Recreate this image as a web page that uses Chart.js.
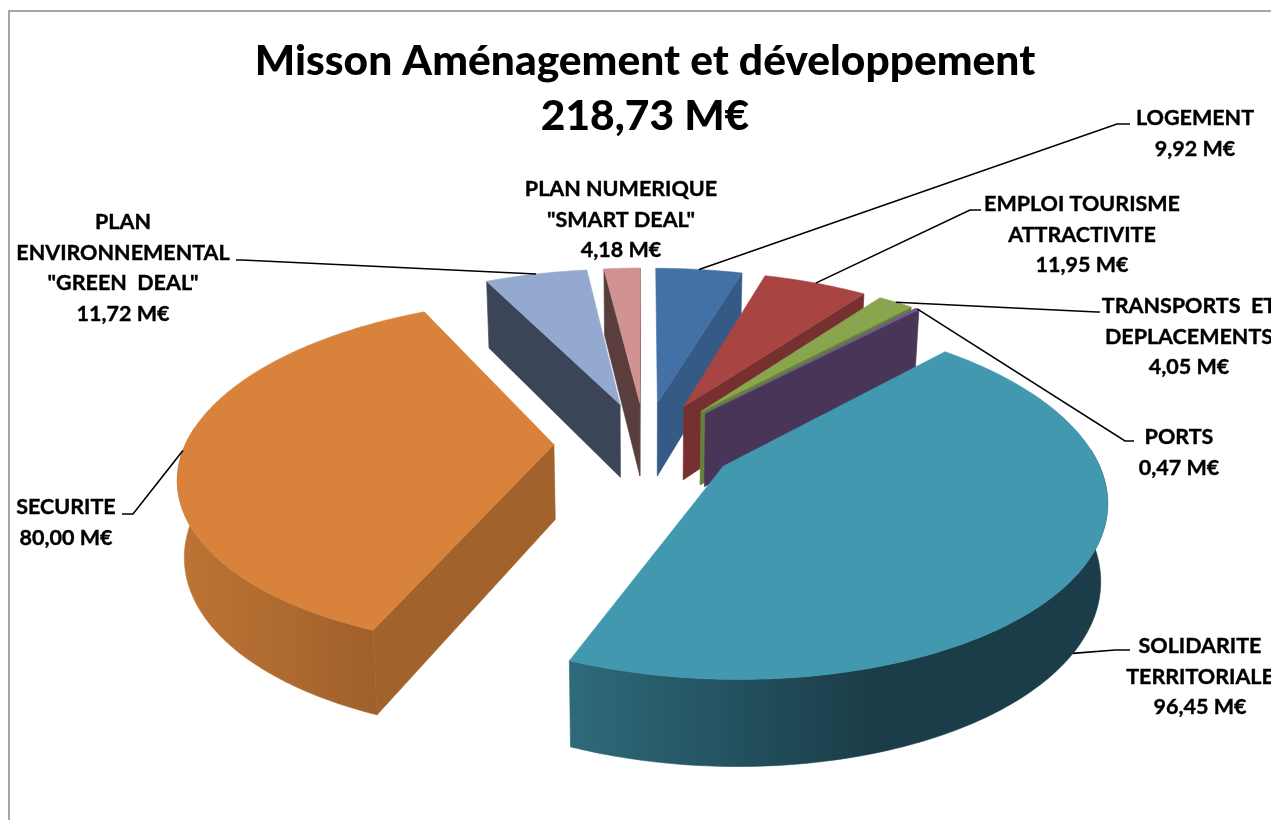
<!DOCTYPE html>
<html lang="fr">
<head>
<meta charset="utf-8">
<title>Mission Aménagement et développement</title>
<script src="https://cdn.jsdelivr.net/npm/chart.js@4/dist/chart.umd.min.js"></script>
<style>
    html, body { margin: 0; padding: 0; background: #fff; overflow: hidden; }
    canvas { display: block; }
</style>
</head>
<body>
<canvas id="myChart" width="1271" height="820" style="width:1271px;height:820px"></canvas>
<script>
    // Données
    const categories = ['LOGEMENT', 'EMPLOI TOURISME ATTRACTIVITE', 'TRANSPORTS ET DEPLACEMENTS', 'PORTS', 'SOLIDARITE TERRITORIALE', 'SECURITE', 'PLAN ENVIRONNEMENTAL "GREEN DEAL"', 'PLAN NUMERIQUE "SMART DEAL"'];
    const valeurs = [9.92, 11.95, 4.05, 0.47, 96.45, 80.00, 11.72, 4.18];
    const lignesTitre = ['Misson Aménagement et développement', '218,73 M€'];
    const lignesLabels = [
        ['LOGEMENT'],
        ['EMPLOI TOURISME', 'ATTRACTIVITE'],
        ['TRANSPORTS  ET', 'DEPLACEMENTS'],
        ['PORTS'],
        ['SOLIDARITE', 'TERRITORIALE'],
        ['SECURITE'],
        ['PLAN', 'ENVIRONNEMENTAL', '"GREEN  DEAL"'],
        ['PLAN NUMERIQUE', '"SMART DEAL"']
    ];

    // Couleurs
    const couleursDessus = ['#4471a5', '#a84442', '#89a54e', '#71588f', '#4198af', '#d9823c', '#93a9cf', '#d19392'];
    const couleursFlanc = ['#345a85', '#763030', '#66803a', '#483558', '#2d6878', '#a2622c', '#3b4557', '#5a3d3d'];

    // Position des textes : centre x, y de la première ligne
    const posLabels = [[1195, 118], [1082, 204], [1189, 306], [1179, 437], [1200, 646], [66, 507], [123, 222], [621, 189]];
    // Filets : coude puis arrivée (null = pas de filet)
    const filets = [
        [[1117, 124], [1130, 124]],
        [[970, 210], [981, 210]],
        [[1097, 312], [1100, 312]],
        [[1125, 441], [1134, 441]],
        [[1115, 650], [1130, 650]],
        [[133, 514], [122, 514]],
        [[242, 260], [236, 260]],
        null
    ];

    // Perspective
    const APLAT = 0.46;
    const RECUL = 2220;
    const EPAISSEUR = 75;
    const FUITE = 0.985;

    function projeter(el, px, py, bas) {
        let w = RECUL / (RECUL - py);
        let sx = px * w;
        let sy = APLAT * py * w;
        if (bas) {
            sx = sx * FUITE;
            sy = sy + EPAISSEUR * (1 + (w - 1) * 0.7);
        }
        return [el.x + sx, el.y + sy];
    }

    // Points du bord d'une part, sur le plan, éclatement compris
    function bordPart(el) {
        let milieu = (el.startAngle + el.endAngle) / 2;
        let decalage = (el.options.offset || 0) / 4;
        let ox = Math.cos(milieu) * decalage;
        let oy = Math.sin(milieu) * decalage;
        let pas = Math.max(2, Math.ceil((el.endAngle - el.startAngle) / 0.015));
        let points = [];
        let devant = [];
        for (let i = 0; i <= pas; i++) {
            let a = el.startAngle + (el.endAngle - el.startAngle) * i / pas;
            let p = [ox + Math.cos(a) * el.outerRadius, oy + Math.sin(a) * el.outerRadius];
            points.push(p);
            if (Math.sin(a) > -0.1) devant.push(p);
        }
        return { ox: ox, oy: oy, points: points, devant: devant };
    }

    function polygone(ctx, pts, fill) {
        ctx.beginPath();
        pts.forEach(function (p, i) {
            if (i == 0) ctx.moveTo(p[0], p[1]);
            else ctx.lineTo(p[0], p[1]);
        });
        ctx.closePath();
        ctx.fillStyle = fill;
        ctx.fill();
        ctx.strokeStyle = fill;
        ctx.lineWidth = 0.6;
        ctx.stroke();
    }

    function flanc(ctx, el, a, b, fill) {
        polygone(ctx, [projeter(el, a[0], a[1], false), projeter(el, b[0], b[1], false), projeter(el, b[0], b[1], true), projeter(el, a[0], a[1], true)], fill);
    }

    function degradeBord(ctx, index, fallback) {
        if (index == 4) {
            let g = ctx.createLinearGradient(572, 0, 1107, 0);
            g.addColorStop(0, '#2e6a7a');
            g.addColorStop(0.55, '#1b3d49');
            g.addColorStop(1, '#1b3d49');
            return g;
        }
        if (index == 5) {
            let g = ctx.createLinearGradient(177, 0, 380, 0);
            g.addColorStop(0, '#bd7434');
            g.addColorStop(1, '#a0602b');
            return g;
        }
        return fallback;
    }

    const pie3d = {
        id: 'pie3d',
        beforeDatasetDraw: function (chart, args) {
            const ctx = chart.ctx;
            const arcs = args.meta.data;
            // de l'arrière vers l'avant
            let ordre = arcs.map(function (el, i) { return i; });
            ordre.sort(function (i, j) {
                return Math.sin((arcs[i].startAngle + arcs[i].endAngle) / 2) - Math.sin((arcs[j].startAngle + arcs[j].endAngle) / 2);
            });
            ctx.save();
            ordre.forEach(function (i) {
                let el = arcs[i];
                let part = bordPart(el);
                let sommet = [part.ox, part.oy];
                // seuls les flancs tournés vers nous
                if (Math.sin(el.startAngle - Math.PI / 2) > 0) {
                    flanc(ctx, el, sommet, part.points[0], couleursFlanc[i]);
                }
                if (Math.sin(el.endAngle + Math.PI / 2) > 0) {
                    flanc(ctx, el, sommet, part.points[part.points.length - 1], couleursFlanc[i]);
                }

                if (part.devant.length > 1) {
                    let dessus = part.devant.map(function (p) { return projeter(el, p[0], p[1], false); });
                    let dessous = part.devant.map(function (p) { return projeter(el, p[0], p[1], true); }).reverse();
                    polygone(ctx, dessus.concat(dessous), degradeBord(ctx, i, couleursFlanc[i]));
                }

                let haut = part.points.map(function (p) { return projeter(el, p[0], p[1], false); });
                polygone(ctx, [projeter(el, part.ox, part.oy, false)].concat(haut), el.options.backgroundColor);
            });
            ctx.restore();
            return false;
        },
        afterDatasetsDraw: function (chart) {
            const ctx = chart.ctx;
            const arcs = chart.getDatasetMeta(0).data;
            ctx.save();
            // filets
            ctx.strokeStyle = '#000';
            ctx.lineWidth = 1.6;
            arcs.forEach(function (el, i) {
                if (!filets[i]) return;
                let milieu = (el.startAngle + el.endAngle) / 2;
                let d = (el.options.offset || 0) / 4 + el.outerRadius;
                // la solidarité s'accroche au bas du flanc
                let depart = projeter(el, Math.cos(milieu) * d, Math.sin(milieu) * d, i == 4);
                ctx.beginPath();
                ctx.moveTo(depart[0], depart[1]);
                filets[i].forEach(function (p) { ctx.lineTo(p[0], p[1]); });
                ctx.stroke();
            });
            // textes
            ctx.fillStyle = '#000';
            ctx.strokeStyle = '#000';
            ctx.lineWidth = 0.4;
            ctx.font = 'bold 21.5px Lato';
            ctx.textAlign = 'center';
            ctx.textBaseline = 'middle';
            lignesLabels.forEach(function (lignes, i) {
                let texte = lignes.concat([valeurs[i].toFixed(2).replace('.', ',') + ' M€']);
                texte.forEach(function (t, n) {
                    ctx.fillText(t, posLabels[i][0], posLabels[i][1] + n * 30.6);
                    ctx.strokeText(t, posLabels[i][0], posLabels[i][1] + n * 30.6);
                });
            });
            ctx.restore();
        },
        beforeDraw: function (chart) {
            // cadre du graphique, coupé à droite et en bas
            const ctx = chart.ctx;
            ctx.save();
            ctx.fillStyle = '#fff';
            ctx.fillRect(0, 0, chart.width, chart.height);
            ctx.strokeStyle = '#a6a6a6';
            ctx.lineWidth = 2;
            ctx.beginPath();
            ctx.moveTo(9, chart.height);
            ctx.lineTo(9, 11);
            ctx.lineTo(chart.width, 11);
            ctx.stroke();
            ctx.restore();
        }
    };

    let myChart = new Chart(document.getElementById('myChart'), {
        type: 'pie',
        data: {
            labels: categories,
            datasets: [{
                data: valeurs,
                backgroundColor: couleursDessus,
                borderWidth: 0,
                offset: 364,
                radius: 368
            }]
        },
        options: {
            responsive: false,
            animation: false,
            layout: { padding: { left: 19, right: 0, top: 0, bottom: 78 } },
            plugins: {
                legend: { display: false },
                tooltip: { enabled: false },
                title: {
                    display: true,
                    text: lignesTitre,
                    color: '#000',
                    font: { family: 'Lato', size: 42.5, weight: '900', lineHeight: 1.294 },
                    padding: { top: 34, bottom: 0 }
                }
            }
        },
        plugins: [pie3d]
    });
</script>
</body>
</html>
